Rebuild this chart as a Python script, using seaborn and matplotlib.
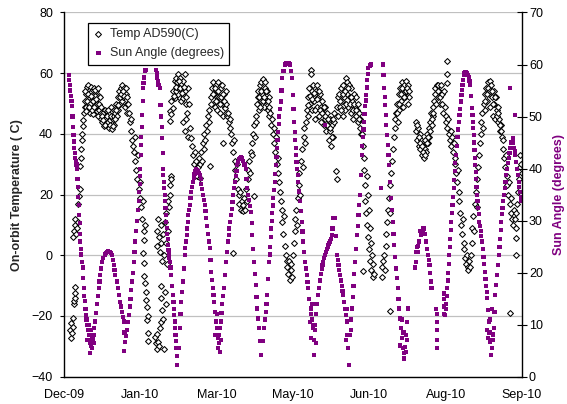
import numpy as np
import pandas as pd
import matplotlib
matplotlib.use("Agg")
import matplotlib.pyplot as plt
import seaborn as sns

# date axis: first label at 12 Dec 2009, a label every 47 days
start = pd.Timestamp("2009-12-12")
tick_step = 47
tick_labels = ["Dec-09", "Jan-10", "Mar-10", "May-10", "Jun-10", "Aug-10", "Sep-10"]

# (days since start, temperature in C)
temp_points = [
    (3.8, -24.5), (4.2, -22.3), (4.5, -27.3), (5.0, -25.5), (5.5, -23.5), (5.8, -20.8),
    (6.0, -16), (6.3, -15), (6.5, -14), (6.7, -12.5), (7.0, -10.3),
    (5.5, 6), (6, 8), (6.5, 10), (7, 12), (7.5, 7), (8, 9), (8.5, 11), (8.8, 17), (9.2, 19.5),
    (9.6, 22), (10, 29.5), (10.3, 32), (10.6, 35), (11, 38), (11.3, 40), (11.6, 42.5),
    (12, 44.7), (12.4, 47), (12.8, 49), (13.2, 51),
    (13.5, 53), (14, 55.5), (14.5, 48), (15, 56), (15.5, 52), (16, 47), (16.5, 55.5), (17, 50.5),
    (17.5, 54), (18, 46.5), (18.5, 55), (19, 51), (19.5, 48), (20, 54), (20.5, 50), (21, 46),
    (21.5, 52.5), (22, 48.5), (22.5, 45), (14.2, 51), (15.8, 53.5), (17.2, 48), (18.8, 52.5),
    (20.2, 47.5), (21.8, 50), (13.8, 49), (16.2, 50), (19.2, 54.5), (22.2, 52),
    (13.2, 54), (13.7, 47.5), (14.7, 53), (15.3, 49), (16.7, 52.5), (17.7, 51), (18.3, 49),
    (19.7, 51.5), (20.7, 55), (21.3, 48), (22.7, 47),
    (23, 49), (23.5, 44), (24, 47), (24.5, 42.5), (25, 48), (25.5, 45), (26, 43), (26.5, 47.5),
    (27, 44), (27.5, 42), (28, 46.5), (28.5, 44.5), (29, 49), (29.5, 41.5), (30, 45), (30.5, 48),
    (31, 43), (23.2, 46), (24.2, 44.5), (25.2, 43), (26.2, 46), (27.2, 48), (28.2, 43), (29.2, 46),
    (30.2, 42.5), (30.8, 46),
    (31.5, 47), (32, 50), (32.5, 46), (33, 52), (33.5, 48), (34, 54), (34.5, 50),
    (35, 55), (35.5, 51), (36, 56), (36.5, 52), (37, 55), (37.5, 49), (38, 53), (38.5, 50), (39, 47),
    (31.2, 45), (32.2, 48), (33.2, 49.5), (34.2, 52), (35.2, 53), (36.2, 54), (37.2, 52.5),
    (38.2, 55), (38.8, 52),
    (39.5, 50), (40, 47), (40.5, 44), (41, 41), (41.5, 45), (42, 38), (42.5, 36), (43, 34),
    (43.5, 39), (44, 31), (44.5, 28), (45, 25), (45.5, 33), (46, 22), (46.5, 19), (47, 24),
    (47.5, 16), (48, 12), (48.5, 18), (49, 8), (49.5, 5), (50, 10),
    (48.5, 0.8), (49, -2.5), (49.5, -6.9), (50, -9.1), (50.3, -12), (50.5, -14.6), (50.8, -17),
    (51, -21.2), (51.5, -25.6), (51.8, -20), (52, -28.3),
    (56, -27), (56.5, -29), (57, -31), (57.5, -26), (58, -28.5), (58.5, -30), (59, -24), (60, -22),
    (61.5, -31), (59.5, -10), (60, -14), (60.5, -18), (61, -21), (62, -12), (62.5, -16),
    (57, 8), (57.5, 3), (58, 12), (58.5, 6), (59, 1), (59.5, 10), (60, 4), (60.5, -2), (61, 7),
    (61.5, 0), (62, 11), (62.5, 4), (63, 14), (63.5, -3), (64, 8), (64, 18), (64.5, 16), (65, 20),
    (65.5, 23), (66, 26), (65.6, 25),
    (65.1, 44.2), (65.1, 47.5), (66.1, 50.8), (66.1, 46.4), (67.1, 54.1), (67.1, 48.6),
    (68.2, 57.4), (68.2, 51.9), (69.2, 58.5), (69.2, 54.1), (70.2, 59.6), (70.2, 55.2),
    (71.2, 58.5), (71.2, 51.9), (72.3, 56.3), (72.3, 50.8), (73.3, 57.4), (73.3, 51.9),
    (74.3, 59.6), (74.3, 54.1), (75.4, 49.7), (76.4, 55.2),
    (67.6, 52.5), (68.7, 55.5), (69.7, 57), (70.7, 57.5), (71.7, 55), (72.8, 53.5), (73.8, 55.5),
    (75, 52), (75.8, 47), (76.9, 50),
    (73.5, 44), (74.3, 41), (75.3, 45), (76.4, 39), (77.4, 42), (78.4, 38.7),
    (79, 36), (79.5, 33), (80, 30), (80.5, 34), (81, 28), (81.5, 31), (82, 26), (82.5, 29),
    (83, 32), (83.6, 25.5), (84, 30), (84.6, 34), (85, 31), (85.5, 37), (86, 35), (86.5, 40),
    (87, 38), (87.5, 43), (88, 41), (88.5, 46), (89, 44), (89.5, 48), (89.8, 29.5),
    (90.5, 52), (91, 55), (91.5, 50), (92, 57), (92.5, 53), (93, 49), (93.5, 56), (94, 52),
    (94.5, 48), (95, 57), (95.5, 52), (96, 47), (96.5, 55), (97, 50), (97.5, 56), (98, 46),
    (98.5, 53), (99, 48.5), (99.5, 54), (100, 50), (100.5, 46), (98.1, 37),
    (90.8, 50), (91.8, 53), (92.8, 55), (93.8, 51), (94.8, 54), (95.8, 50), (96.8, 52), (97.8, 53),
    (98.8, 51), (99.8, 47),
    (101, 47), (101.5, 44), (102, 42), (102.5, 45), (103, 40), (103.5, 37), (104, 34), (104.5, 38),
    (105, 31), (105.5, 28), (106, 25), (106.5, 30), (107, 22), (107.5, 20), (108, 17), (108.5, 21),
    (109, 15), (109.5, 18), (110, 14.5), (110.5, 16.5), (111, 19), (111.5, 15), (112, 22),
    (112.5, 18), (104.3, 0.8),
    (113, 25), (113.5, 28), (114, 31), (114.5, 27), (115, 34), (115.5, 37), (116, 33), (116.5, 40),
    (117, 43), (117.5, 39), (118, 46), (118.5, 44), (117.2, 19.5),
    (119, 50), (119.5, 54), (120, 48), (120.5, 56), (121, 51), (121.5, 57), (122, 53), (122.5, 58),
    (123, 49), (123.5, 55), (124, 57), (124.5, 51), (125, 54), (125.5, 48), (126, 52), (126.5, 46),
    (119.3, 52), (120.3, 52), (121.3, 54), (122.3, 51), (123.3, 52), (124.3, 54), (125.3, 51),
    (126.3, 49), (120.8, 49),
    (127, 47), (127.5, 43), (128, 45), (128.5, 40), (129, 42), (129.5, 37), (130, 34), (130.5, 39),
    (131, 30), (131.5, 27), (132, 32), (132.5, 24), (133, 21), (133.5, 18), (134, 15), (134.5, 11),
    (135, 7), (135.5, 13), (136, 3), (136.5, 0), (137, -2),
    (137.5, -4), (138, -6), (138.5, -2), (139, -8), (139.5, -5), (140, -3), (140.5, -7),
    (141, 0), (141.5, 4), (142, 8), (142.5, 12), (143, 15), (143.5, 10), (144, 19), (144.5, 23),
    (145, 27), (145.5, 20), (146, 31), (146.5, 35), (147, 29), (147.5, 39), (148, 42), (148.5, 37),
    (149, 44), (149.5, 48), (150, 52), (150.5, 46), (151, 55), (151.5, 50), (152, 61), (152.2, 59.6),
    (152.5, 54), (153, 48), (153.5, 56), (154, 51), (154.5, 45), (155, 54), (155.5, 49), (156, 56),
    (156.5, 52), (157, 46), (157.5, 53), (158, 49), (158.5, 44), (159, 51), (159.5, 47), (160, 43),
    (160.5, 49), (161, 45), (161.5, 41), (162, 47), (162.5, 43), (163, 38), (163.5, 45), (164, 41),
    (164.5, 36), (165, 43), (165.5, 39), (166, 47), (166.5, 44), (167.5, 27.7), (167.8, 25),
    (168, 49), (168.5, 52),
    (150.3, 49.5), (151.3, 52.5), (152.8, 51.5), (153.8, 53.5), (154.8, 48), (155.8, 51.5),
    (156.8, 54), (157.8, 48), (158.8, 47), (159.8, 49), (160.8, 46), (161.8, 43), (162.8, 45),
    (163.8, 42), (164.8, 39), (165.8, 45),
    (169, 46), (169.5, 53), (170, 49), (170.5, 55), (171, 51), (171.5, 46), (172, 56), (172.5, 52),
    (173, 48), (173.5, 58.5), (174, 57), (174.5, 53), (175, 49), (175.5, 56), (176, 52),
    (176.5, 47), (177, 55), (177.5, 51), (178, 45), (178.5, 53), (179, 49), (179.5, 46), (180, 52),
    (180.5, 48), (181, 44), (181.5, 47), (182, 42), (182.5, 45), (183, 40),
    (169.8, 51), (170.8, 48), (171.8, 53), (172.8, 54), (173.8, 50), (174.8, 55), (175.8, 50),
    (176.8, 52), (177.8, 48), (178.8, 50), (179.8, 48), (180.8, 50), (181.8, 45),
    (183.5, 40), (184, 36), (184.5, 32), (185, 28), (185.3, 23), (185.6, 18), (186, 14),
    (186.3, 26), (186.6, 10), (187, 20), (187.3, 6), (187.6, 15), (188, 2), (188.3, 9),
    (188.6, -2), (189, 4), (189.3, -5), (189.6, 0), (190, -7), (190.3, -3), (190.6, -6),
    (184.3, -5.3),
    (195.5, -4), (196, -7), (196.5, -2), (197, 0), (197.5, -5), (198, 3), (198.5, 7), (199, 11),
    (199.5, 15), (200, 19), (200.5, 14), (200.7, -18.5), (201, 23), (201.5, 27), (202, 31),
    (202.5, 35), (203, 39), (203.5, 42), (204, 45),
    (204.5, 47), (205, 50), (205.5, 44), (206, 53), (206.5, 48), (207, 55), (207.5, 51), (208, 57),
    (208.5, 53), (209, 49), (209.5, 56), (210, 52), (210.5, 57.4), (211, 54), (211.5, 50),
    (212, 56), (212.5, 52), (205.3, 47), (206.3, 50), (207.3, 53), (208.3, 55), (209.3, 52),
    (210.3, 54), (211.3, 55), (212.3, 54),
    (216.5, 44), (217, 41), (217.5, 38), (218, 42), (218.5, 36), (219, 40), (219.5, 35), (220, 38),
    (220.5, 33), (221, 36), (221.5, 32), (222, 35), (222.5, 38), (223, 34), (223.5, 40), (224, 37),
    (224.5, 42), (225, 39), (225.5, 44), (226, 47), (226.5, 43), (227, 49), (227.5, 46), (228, 51),
    (228.5, 55), (229, 53), (229.5, 56), (230, 52), (230.5, 56), (231, 54), (231.5, 50),
    (217.2, 43), (218.3, 39), (219.3, 37), (220.3, 36), (221.3, 34), (222.3, 33), (223.3, 37),
    (224.3, 39), (225.3, 41), (226.3, 45), (227.3, 47), (228.3, 53), (229.3, 50), (230.3, 54),
    (231.3, 52), (232, 56),
    (232.5, 53), (233, 50), (233.5, 47), (234, 54), (234.5, 49), (235, 46),
    (235.9, 64), (235.9, 59.6), (235.9, 56.9),
    (235.5, 44), (236, 42), (236.5, 45), (237, 40), (237.5, 38), (238, 41), (238.5, 36), (239, 39),
    (239.5, 34), (240, 37), (240.5, 32), (241, 30), (241.5, 27), (242, 24), (242.5, 28), (243, 21),
    (243.5, 18), (244, 14), (244.5, 10), (245, 7), (245.5, 12), (246, 4), (246.5, 2),
    (247, -1), (247.5, -3), (248, 0), (248.5, -4), (249, -5), (249.5, -2), (250, -4), (250.5, 0),
    (251, 4), (251.5, 9), (252, 13), (252.5, 8), (253, 17), (253.5, 21), (254, 16), (254.5, 25),
    (255, 29), (255.5, 33), (256, 37), (256.5, 40), (257, 44), (257.5, 47), (258, 42), (258.5, 50),
    (259, 53), (259.5, 48), (260, 55), (260.5, 51), (261, 57), (261.5, 53), (262, 57.5),
    (262.5, 49), (263, 56), (263.5, 52), (264, 46), (264.5, 54), (265, 50), (265.5, 45), (266, 52),
    (266.5, 48), (267, 44), (267.5, 49), (268, 45), (268.5, 41), (269, 43), (269.5, 39),
    (259.3, 51), (260.3, 53), (261.3, 55), (262.3, 54), (263.3, 54), (264.3, 50), (265.3, 52),
    (266.3, 46), (267.3, 47), (268.3, 43), (269.3, 41),
    (270, 38), (270.5, 35), (271, 32), (271.5, 29), (272, 33), (272.5, 26), (273, 23), (273.5, 20),
    (274, 24), (274.5, 17), (275, 14), (275.5, 19), (276, 12), (276.5, 10), (277, 15),
    (277.5, 12), (278, 9), (278.5, 14), (279, 17), (279.5, 21), (280, 25), (280.5, 29), (281, 33),
    (281.5, 30), (282, 27), (278, 5.7), (278, 0.2), (274.9, -19),
]

# (days since start, sun angle in degrees)
sun_points = [
    # Dec
    (2.9, 58), (3.2, 57), (3.5, 56), (3.9, 55), (4.2, 54), (4.6, 53), (4.9, 52), (5.2, 50),
    (5.5, 48), (5.8, 46.5), (6.0, 45.2), (6.3, 44), (6.6, 43), (7.0, 42), (7.3, 41.5), (7.7, 40.8),
    (8.0, 40), (8.3, 38), (8.5, 36.5), (8.8, 34.5), (9.1, 33), (9.4, 31), (9.6, 29.5), (9.8, 27.5),
    (10.0, 26), (10.4, 24.5), (10.7, 23.5), (11.1, 22), (11.5, 21), (11.8, 19), (12.1, 17),
    (12.5, 15.5), (12.8, 14.5), (13.2, 13), (13.5, 11.9), (13.9, 11), (14.3, 10), (14.8, 9),
    (15.2, 8), (15.7, 7), (16.2, 6.5), (16.7, 6), (17.2, 5.5), (14, 7), (15.5, 10), (16.5, 9),
    (17.5, 7.5), (18.5, 6.5), (16, 4.5),
    (17.7, 6.8), (18.2, 8), (18.7, 9.3), (19.3, 10.6), (19.8, 12.3), (20.3, 14), (20.8, 15.5),
    (21.4, 17), (21.9, 18.3), (22.4, 19.5), (22.9, 20.8), (23.4, 22), (24.2, 22.8), (25, 23.5),
    (25.7, 23.8), (26.5, 24), (27.2, 24.2), (28, 24), (28.8, 23.8), (29.6, 23.4), (30.1, 22.5),
    (30.6, 21.5), (31.1, 20.5), (31.6, 19.6), (32.4, 18.3), (33.2, 17), (34, 15.7), (34.7, 14.4),
    (35.3, 13.5), (35.8, 12.5), (36.3, 11.5), (36.8, 10.6), (37.2, 8.5), (37.7, 6.7), (36.9, 5),
    (38.3, 7.8), (38.8, 9), (39.3, 10.5), (39.8, 11.9), (40.4, 13.5), (40.9, 15), (41.4, 16.7),
    (41.9, 18.3), (42.4, 20), (42.9, 22), (43.4, 24), (43.9, 26), (44.5, 28), (45, 30), (45.5, 32),
    (46, 33.7), (46.3, 35.5), (46.6, 37), (46.8, 38.5), (47, 40), (47.3, 42.6), (47.5, 44.5),
    (47.6, 46), (47.9, 48), (48.1, 50.3), (48.4, 53), (48.6, 55.5), (48.9, 56.5), (49.2, 57.5),
    (49.7, 58.7), (50.2, 59), (50.7, 59),
    # Jan - Feb
    (56.8, 59), (57.2, 58.3), (57.5, 57.5), (57.8, 56.8), (58.2, 56), (58.9, 55.5), (59.4, 52.3),
    (59.9, 50), (60.1, 48), (60.4, 45.8), (60.7, 43), (61, 40), (61.2, 38.8), (61.5, 37.5),
    (61.8, 36.2), (62, 35), (62.3, 33.8), (62.5, 32.5), (62.8, 31), (63, 29.8), (63.3, 28.6),
    (63.5, 27.5), (63.8, 26.4), (64, 25.3), (64.3, 24.4), (64.6, 23.5), (64.8, 22.8), (65.1, 22.1),
    (65.6, 21), (66.1, 19.6), (66.6, 17.5), (67.1, 15.7), (67.4, 14.3), (67.6, 13), (67.9, 11.8),
    (68.2, 10.6), (68.5, 9.3), (68.7, 8), (69, 6.8), (69.2, 5.5), (69.5, 4), (69.8, 2.3),
    (70.5, 5.5), (71.2, 9.3), (71.7, 12), (72.2, 14.4), (72.7, 16.3), (73.3, 18.3), (73.8, 20.8),
    (74.3, 23.4), (74.7, 24.7), (75.1, 26), (75.5, 27.3), (75.9, 28.5), (76.2, 29.8), (76.6, 31),
    (77, 32), (77.4, 33), (77.9, 34.3), (78.4, 35.5), (78.9, 36.5), (79.4, 37.5), (79.9, 38.3),
    (80.4, 39), (81, 39.6), (81.5, 40), (82, 39.8), (82.5, 39.5), (83, 39.2), (83.6, 38.8),
    (84.1, 38), (84.6, 37), (85.1, 36), (85.6, 35), (86.1, 34), (86.6, 33), (87.1, 31.8),
    (87.6, 30.5), (88.1, 29), (88.6, 27.5), (89.2, 26), (89.7, 24.7), (90.2, 22.5), (90.7, 20.2),
    (91.1, 18.6), (91.5, 17), (92, 15.7), (92.4, 14.4), (93.1, 12.5), (93.8, 10.6), (94.4, 9.3),
    (94.8, 5.5), (94.6, 7.5), (95.2, 6.5), (93, 8), (94, 12), (95.8, 4.8), (96.8, 7),
    # Mar - Apr
    (95.5, 8), (96, 9.3), (96.5, 10.6), (97, 12.3), (97.5, 14), (98, 15.5), (98.5, 17), (99, 19.5),
    (99.6, 22), (100.3, 24), (101, 26), (101.4, 27.3), (101.8, 28.5), (102.2, 29.8), (102.7, 31),
    (103.2, 32.3), (103.7, 33.5), (104.2, 35), (104.7, 36.2), (105.2, 37.4), (105.7, 38.5),
    (106.2, 39.6), (106.7, 40.7), (107.2, 41.3), (107.8, 41.8), (108.3, 42.1), (108.8, 42.3),
    (109.5, 42), (110.3, 41.5), (111.1, 40.8), (111.9, 40), (112.4, 38), (112.9, 36.2), (113.5, 35),
    (114, 34), (114.5, 32.8), (115, 31.7), (115.5, 29.5), (116, 27.2), (116.5, 24.6), (117, 22),
    (117.5, 19.8), (118, 17.6), (118.5, 15.3), (119, 13.1), (119.5, 11.2), (120.1, 9.3),
    (120.8, 6.8), (121.5, 4.2),
    (122.3, 6.8), (123.2, 9.3), (123.7, 11), (124.2, 12.5), (124.7, 14), (125.2, 15.7),
    (125.7, 18.8), (126.2, 22), (126.6, 23.5), (127, 25), (127.4, 26.8), (127.7, 28.5), (128, 30),
    (128.3, 31.5), (128.6, 32.9), (128.9, 34.3), (129.3, 35.9), (129.7, 37.5), (130, 39),
    (130.4, 40.7), (130.8, 42.3), (131.1, 44), (131.5, 45.5), (131.8, 47.1), (132.2, 48.5),
    (132.6, 50), (133, 51.5), (133.4, 52.9), (133.9, 55), (134.4, 57.4), (135.1, 58.8), (135.9, 60),
    (136.6, 60.3), (137.3, 60.3), (138.2, 60.2), (139.2, 60), (139.9, 58.8), (140.6, 57.4),
    (141, 54.2), (141.3, 51.5), (141.6, 49), (142, 47), (142.3, 45.5), (142.6, 44), (142.9, 42.6),
    (143.2, 41.3), (143.6, 40), (143.9, 38.8), (144.3, 37.5), (144.8, 35.6), (145.3, 33.7),
    (145.8, 31.8), (146.4, 29.8), (146.9, 27.9), (147.4, 26), (147.9, 24), (148.4, 22.1),
    (148.9, 20.8), (149.4, 19.5), (149.9, 18.2), (150.4, 17), (151.1, 15), (151.9, 13.1),
    (152.3, 12), (152.7, 11), (153.1, 10), (153.5, 9.3), (153.8, 7), (154, 4.2),
    (152, 7.5), (153, 14), (154.5, 10), (155, 6.5), (151.5, 10.5),
    # May - Jun
    (154.7, 9), (155.3, 12), (156, 14), (156.6, 15.7), (157.1, 17), (157.6, 18.5), (158.2, 19.7),
    (158.7, 20.8), (159.2, 21.5), (159.7, 22), (160.2, 22.8), (160.7, 23.4), (161.3, 24),
    (161.8, 24.5), (162.3, 25), (162.8, 25.3), (163.3, 25.6), (163.8, 26), (164.3, 26.5),
    (164.8, 27.2), (165.3, 28.5), (165.8, 30.5), (166.4, 30.5), (166.9, 30.5), (167.4, 27),
    (167.9, 23.4), (168.5, 22.5), (169, 21.5), (169.5, 20.5), (170, 19.6), (170.5, 18.5),
    (171, 17.5), (171.5, 16.5), (172, 15.7), (172.5, 14.3), (173, 13), (173.5, 11.8),
    (174.1, 10.6), (174.6, 8), (175.1, 5.5), (175.7, 2.3), (160.7, 48.4),
    (173.5, 7), (174.5, 13), (176, 8), (176.5, 11),
    (176.5, 9), (177.2, 13.1), (177.7, 15.3), (178.2, 17.5), (178.7, 19.8), (179.2, 22),
    (179.7, 24.6), (180.2, 27.2), (180.8, 29), (181.3, 31), (181.8, 33), (182.3, 35), (182.8, 38.8),
    (183.3, 42.6), (183.7, 44.3), (184, 46), (184.4, 47.5), (184.7, 49), (185, 50.5), (185.4, 52),
    (185.7, 53.1), (186, 54.2), (186.4, 55.6), (186.7, 57), (187, 58.2), (187.4, 59.3),
    (188.2, 59.8), (189.1, 60),
    (196.3, 60), (196.7, 58), (197.2, 55.5), (197.5, 53.8), (197.9, 52.2), (198.1, 50.3),
    (198.3, 48.4), (198.8, 46.5), (199.3, 44.6), (199.8, 42.6), (200.3, 40.7), (200.8, 37.5),
    (201.4, 34.3), (201.9, 32), (202.4, 29.8), (202.9, 27.5), (203.4, 25.3), (203.9, 23),
    (204.4, 20.8), (204.9, 18.9), (205.5, 17), (206, 15), (206.5, 13.1), (207, 11.2), (207.5, 9.3),
    (208, 7.4), (208.6, 5.5), (209.1, 4.5), (209.6, 3.5), (210.1, 5.7), (210.6, 8), (211.1, 10.5),
    (211.7, 13.1), (195.2, 36.2), (207, 6), (208, 11), (209, 8.5), (210.5, 4.8), (211.2, 7),
    # Jul
    (216.3, 21), (216.8, 22), (216.8, 24), (217.3, 25), (217.8, 24), (218.2, 25.2), (218.6, 26),
    (219.2, 28), (219.8, 27.2), (220.3, 27.8), (220.8, 28), (221.4, 28.5), (221.9, 28.5),
    (222.4, 27.5), (222.9, 26), (223.5, 24.5), (224, 23.4), (224.5, 22.5), (225, 21.5), (225.5, 20),
    (226, 18.3), (226.3, 17),
    (229.3, 13), (229.5, 12), (229.5, 10.5), (229.5, 9), (229.6, 7), (229.7, 5.5),
    (233.9, 16), (234.2, 15), (234.2, 13.5), (234.2, 12),
    # Aug - Sep
    (234.8, 11.9), (235.1, 13), (235.4, 14), (235.6, 15.5), (235.9, 17), (236.3, 18.5), (236.6, 20),
    (237, 21.7), (237.3, 23.4), (237.6, 25), (237.9, 26.5), (238.2, 28.2), (238.5, 29.8),
    (238.8, 31.4), (239.2, 33), (239.6, 34.6), (240, 36.2), (240.3, 37.8), (240.7, 39.5), (241, 41),
    (241.4, 42.6), (241.9, 44.3), (242.3, 46), (242.7, 47.5), (243.1, 49), (243.5, 50.3),
    (243.9, 51.5), (244.3, 52.9), (244.7, 54.2), (245, 55.1), (245.4, 56), (245.7, 57), (246.1, 58),
    (246.6, 58.3), (247.2, 58.5), (247.7, 58.5), (248.2, 58.3), (248.7, 58), (249.2, 57.5),
    (249.7, 56.8), (250.2, 56.1), (250.7, 54), (251.2, 51.6), (251.5, 50.3), (251.8, 49),
    (252, 47.8), (252.3, 46.5), (252.5, 45), (252.8, 43.5), (253, 42), (253.3, 40.7), (253.5, 39.3),
    (253.8, 38), (254, 36.5), (254.3, 35), (254.6, 33.8), (255, 32.5), (255.3, 31.2), (255.7, 29.8),
    (256.1, 28.9), (256.5, 28), (257, 27), (257.4, 26), (257.8, 24.5), (258.3, 23), (258.7, 21.6),
    (259.1, 20.2), (259.5, 18.8), (259.8, 17.5), (260.2, 16.3), (260.5, 15.1), (261, 12.8),
    (261.5, 10.6), (262, 8.5), (262.5, 6.7), (263.1, 4.2), (263.5, 5.5), (263.8, 7), (264.2, 8.1),
    (264.6, 9.3), (265.1, 12.5), (265.6, 15.7), (266.1, 17.6), (266.6, 19.5), (267.2, 21.5),
    (267.7, 23.4), (268.1, 25), (268.5, 26.5), (268.9, 28.2), (269.3, 29.8), (269.7, 31.2),
    (270, 32.5), (270.4, 33.8), (270.8, 35), (271.3, 36.3), (271.8, 37.5), (272.3, 38.8),
    (272.8, 40), (273.3, 41), (273.8, 42), (274.3, 43), (274.8, 44), (275.5, 45), (276.3, 45.8),
    (276.7, 45), (277.1, 44), (277.5, 43.3), (277.9, 42.6), (278.4, 41.3), (279, 40), (279.5, 38.8),
    (280, 37.5), (280.4, 36.5), (280.8, 35.5), (281.2, 34.6), (281.6, 33.7),
    (274.8, 55.5), (277.5, 50.3), (261, 7.5), (262.5, 11), (263.5, 13), (260.5, 9),
]

temp_day, temp_c = zip(*temp_points)
sun_day, sun_deg = zip(*sun_points)

temp = pd.DataFrame({"date": start + pd.to_timedelta(temp_day, unit="D"), "temp": temp_c})
sun = pd.DataFrame({"date": start + pd.to_timedelta(sun_day, unit="D"), "angle": sun_deg})

purple = "#800080"

sns.set_style("white")
plt.rcParams["font.family"] = ["Liberation Sans", "DejaVu Sans"]
plt.rcParams["font.size"] = 9

fig = plt.figure(figsize=(5.67, 4.04), dpi=100)
ax = fig.add_axes([64 / 567, 1 - 376.7 / 404, 458 / 567, 364.2 / 404])
ax2 = ax.twinx()

sns.scatterplot(data=temp, x="date", y="temp", ax=ax, marker="D", s=9,
                color="white", edgecolor="black", linewidth=0.75, label="Temp AD590(C)")
sns.scatterplot(data=sun, x="date", y="angle", ax=ax2, marker="s", s=9,
                color=purple, edgecolor="none", linewidth=0, label="Sun Angle (degrees)")

for a in (ax, ax2):
    if a.get_legend() is not None:
        a.get_legend().remove()

ticks = [start + pd.Timedelta(days=tick_step * i) for i in range(len(tick_labels))]
ax.set_xlim(ticks[0], ticks[-1])
ax.set_xticks(ticks)
ax.set_xticklabels(tick_labels)

ax.set_ylim(-40, 80)
ax.set_yticks(range(-40, 81, 20))
ax2.set_ylim(0, 70)
ax2.set_yticks(range(0, 71, 10))

ax.yaxis.grid(True, color="#c0c0c0", linewidth=0.9)
ax.xaxis.grid(False)
ax.set_axisbelow(True)

ax.set_xlabel("")
ax.set_ylabel("On-orbit Temperature ( C)", fontweight="bold", fontsize=9, labelpad=6)
ax2.set_ylabel("Sun Angle (degrees)", fontweight="bold", fontsize=9, color=purple, labelpad=7)

for a in (ax, ax2):
    a.spines["top"].set_visible(False)
    for s in a.spines.values():
        s.set_color("black")
        s.set_linewidth(1)
ax.spines["right"].set_visible(False)
ax2.spines["left"].set_visible(False)
ax2.spines["bottom"].set_visible(False)

ax.tick_params(axis="y", direction="out", length=3, width=0.8, pad=5, labelsize=9, colors="black")
ax.tick_params(axis="x", direction="out", length=3, width=0.8, pad=6, labelsize=9, colors="black")
ax2.tick_params(axis="y", direction="inout", length=7, width=0.8, pad=1.5, labelsize=9, colors="black")

h1, l1 = ax.get_legend_handles_labels()
h2, l2 = ax2.get_legend_handles_labels()
leg = ax2.legend(h1 + h2, l1 + l2, loc="upper left", bbox_to_anchor=(0.052, 0.972),
                 borderaxespad=0, frameon=True, fancybox=False, framealpha=1,
                 edgecolor="black", fontsize=9, handlelength=0.8, handletextpad=0.5,
                 borderpad=0.45, labelspacing=0.55)
leg.get_frame().set_linewidth(0.9)

fig.savefig("out.png", dpi=100)
